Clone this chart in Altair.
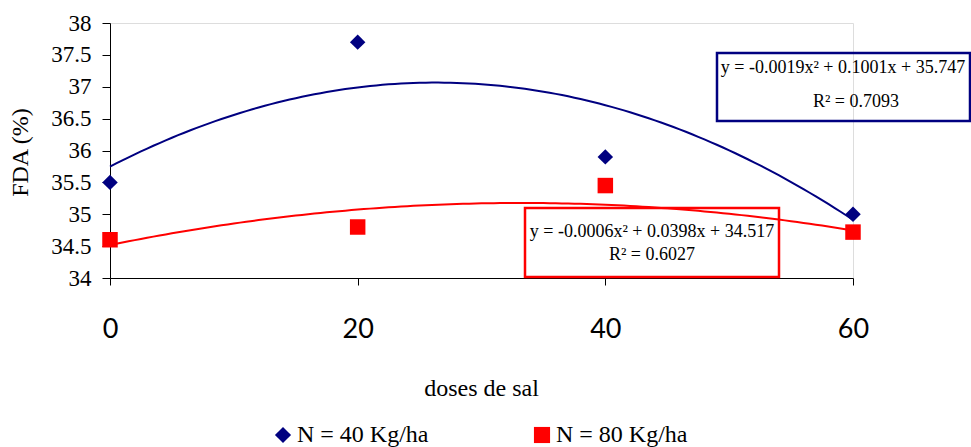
import altair as alt
import numpy as np
import pandas as pd

# Observed FDA (%) at each salt dose, for the two nitrogen levels
doses = [0, 20, 40, 60]
fda_n40 = [35.5, 37.7, 35.9, 35.0]
fda_n80 = [34.6, 34.8, 35.45, 34.72]
series_names = ["N = 40 Kg/ha", "N = 80 Kg/ha"]
series_colors = ["#000080", "#FF0000"]
series_shapes = ["diamond", "square"]

# Quadratic trend lines (a x^2 + b x + c) and their R^2
coef_n40 = [-0.0019, 0.1001, 35.747]
coef_n80 = [-0.0006, 0.0398, 34.517]
r2_n40 = "0.7093"
r2_n80 = "0.6027"

y_ticks = [34, 34.5, 35, 35.5, 36, 36.5, 37, 37.5, 38]
x_ticks = [0, 20, 40, 60]

points = pd.DataFrame({
    "dose": doses * 2,
    "fda": fda_n40 + fda_n80,
    "serie": [series_names[0]] * 4 + [series_names[1]] * 4,
})

xs = np.linspace(0, 60, 121)
curves = pd.concat([
    pd.DataFrame({"dose": xs, "fda": np.polyval(c, xs), "serie": name})
    for c, name in zip([coef_n40, coef_n80], series_names)
])

one_row = pd.DataFrame({"k": [0]})

def eq_text(c):
    return f"y = {c[0]:.4f}x² + {c[1]:.4f}x + {c[2]:.3f}"

x_enc = alt.X("dose:Q", scale=alt.Scale(domain=[0, 60], nice=False),
              axis=alt.Axis(values=x_ticks, title="doses de sal", grid=False,
                            labelFont="Lato", labelFontSize=27, labelPadding=44,
                            labelBaseline="middle", labelFlush=False,
                            titleFont="Liberation Serif", titleFontSize=24,
                            titleFontWeight="normal", titleX=371, titleY=110,
                            titleBaseline="middle",
                            tickSize=7, domainColor="black", tickColor="black",
                            labelColor="black", titleColor="black"))
y_enc = alt.Y("fda:Q", scale=alt.Scale(domain=[34, 38], nice=False, zero=False),
              axis=alt.Axis(values=y_ticks, format=".1~f", title="FDA (%)", grid=False,
                            labelFont="Liberation Serif", labelFontSize=23,
                            labelPadding=11, labelOverlap=False, labelFlush=False,
                            titleFont="Liberation Serif", titleFontSize=24,
                            titleFontWeight="normal", titleX=-90, titleY=129,
                            titleBaseline="middle", titleAlign="center",
                            tickSize=8, domainColor="black", tickColor="black",
                            labelColor="black", titleColor="black"))

color_scale = alt.Scale(domain=series_names, range=series_colors)
shape_scale = alt.Scale(domain=series_names, range=series_shapes)

legend = alt.Legend(
    title=None, orient="none", direction="horizontal", legendX=161, legendY=400,
    labelFont="Liberation Serif", labelFontSize=24, labelColor="black",
    symbolSize=260, labelOffset=2, columnPadding=101, padding=0,
    symbolStrokeWidth=0)

lines = alt.Chart(curves).mark_line(strokeWidth=2).encode(
    x=x_enc, y=y_enc,
    color=alt.Color("serie:N", scale=color_scale, legend=legend),
    detail="serie:N",
)

dots = alt.Chart(points).mark_point(filled=True, opacity=1, size=240).encode(
    x=x_enc, y=y_enc,
    color=alt.Color("serie:N", scale=color_scale, legend=legend),
    shape=alt.Shape("serie:N", scale=shape_scale, legend=legend),
)

# Equation boxes
box40 = alt.Chart(one_row).mark_rect(fillOpacity=0, stroke="#000080",
                                     strokeWidth=2.5).encode(
    x=alt.value(607), x2=alt.value(860), y=alt.value(30), y2=alt.value(98))
box80 = alt.Chart(one_row).mark_rect(fillOpacity=0, stroke="#FF0000",
                                     strokeWidth=2.5).encode(
    x=alt.value(415), x2=alt.value(669), y=alt.value(185), y2=alt.value(254))

def label(txt, x, y):
    return alt.Chart(one_row).mark_text(font="Liberation Serif", fontSize=18,
                                        color="black", align="center",
                                        baseline="middle").encode(
        x=alt.value(x), y=alt.value(y), text=alt.value(txt))

texts = [
    label(eq_text(coef_n40), 733, 45),
    label(f"R² = {r2_n40}", 746, 79),
    label(eq_text(coef_n80), 542, 209),
    label(f"R² = {r2_n80}", 542, 232),
]

chart = alt.layer(lines, dots, box40, box80, *texts).properties(
    width=743, height=255,
    autosize=alt.AutoSizeParams(type="none"),
    padding={"left": 110, "top": 23, "right": 118, "bottom": 169},
).configure_view(stroke=None).configure(background="white")

chart.save("out.html", embed_options={"renderer": "svg", "actions": False})
